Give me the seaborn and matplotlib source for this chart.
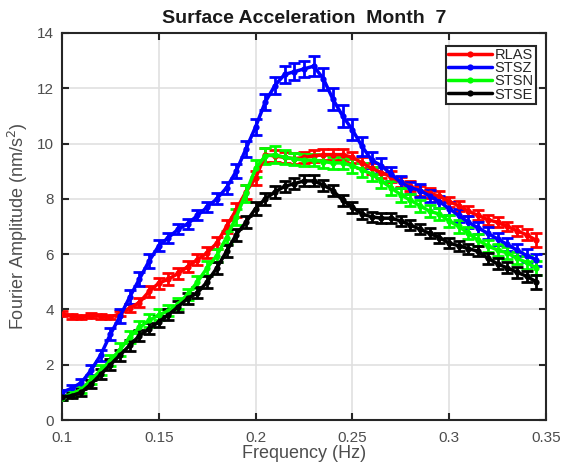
import numpy as np
import pandas as pd
import matplotlib
matplotlib.use("Agg")
import matplotlib.pyplot as plt
import seaborn as sns

freq = [0.100, 0.105, 0.110, 0.115, 0.120, 0.125, 0.130, 0.135, 0.140, 0.145,
        0.150, 0.155, 0.160, 0.165, 0.170, 0.175, 0.180, 0.185, 0.190, 0.195,
        0.200, 0.205, 0.210, 0.215, 0.220, 0.225, 0.230, 0.235, 0.240, 0.245,
        0.250, 0.255, 0.260, 0.265, 0.270, 0.275, 0.280, 0.285, 0.290, 0.295,
        0.300, 0.305, 0.310, 0.315, 0.320, 0.325, 0.330, 0.335, 0.340, 0.345]

rlas = [3.85, 3.75, 3.72, 3.78, 3.75, 3.72, 3.85, 4.05, 4.25, 4.65,
        4.95, 5.10, 5.30, 5.55, 5.80, 6.05, 6.40, 7.00, 7.60, 8.25,
        8.75, 9.60, 9.55, 9.50, 9.45, 9.50, 9.55, 9.60, 9.60, 9.60,
        9.50, 9.30, 9.10, 8.95, 8.80, 8.60, 8.45, 8.30, 8.20, 8.10,
        7.90, 7.75, 7.55, 7.40, 7.25, 7.15, 7.00, 6.85, 6.70, 6.50]

stsz = [1.00, 1.15, 1.35, 1.80, 2.35, 3.10, 3.75, 4.45, 5.10, 5.75,
        6.30, 6.60, 6.90, 7.10, 7.40, 7.70, 8.00, 8.40, 9.00, 9.80,
        10.60, 11.50, 12.10, 12.50, 12.60, 12.70, 12.80, 12.35, 11.60, 11.00,
        10.50, 9.90, 9.40, 9.20, 8.90, 8.60, 8.40, 8.30, 8.10, 7.90,
        7.65, 7.40, 7.15, 6.95, 6.75, 6.55, 6.35, 6.15, 5.95, 5.80]

stsn = [0.80, 0.95, 1.10, 1.45, 1.80, 2.15, 2.55, 3.00, 3.35, 3.60,
        3.80, 3.95, 4.20, 4.55, 5.00, 5.50, 5.95, 6.60, 7.35, 8.20,
        9.10, 9.55, 9.60, 9.50, 9.45, 9.40, 9.40, 9.35, 9.30, 9.30,
        9.20, 9.05, 8.90, 8.65, 8.40, 8.15, 7.95, 7.75, 7.55, 7.45,
        7.20, 7.00, 6.75, 6.50, 6.30, 6.15, 6.05, 5.85, 5.70, 5.50]

stse = [0.82, 0.88, 1.00, 1.30, 1.65, 2.00, 2.35, 2.70, 3.05, 3.30,
        3.55, 3.80, 4.10, 4.40, 4.60, 5.00, 5.50, 6.10, 6.70, 7.15,
        7.65, 8.00, 8.25, 8.45, 8.55, 8.65, 8.65, 8.50, 8.30, 7.95,
        7.70, 7.45, 7.35, 7.30, 7.30, 7.20, 7.05, 6.90, 6.75, 6.60,
        6.40, 6.30, 6.20, 6.10, 5.85, 5.65, 5.50, 5.35, 5.20, 5.00]

rlas_err = [0.08, 0.08, 0.08, 0.08, 0.08, 0.08, 0.10, 0.15, 0.18, 0.20,
            0.20, 0.20, 0.20, 0.20, 0.20, 0.20, 0.22, 0.22, 0.25, 0.25,
            0.25, 0.25, 0.22, 0.20, 0.20, 0.20, 0.20, 0.20, 0.20, 0.20,
            0.20, 0.20, 0.20, 0.20, 0.20, 0.18, 0.18, 0.18, 0.18, 0.18,
            0.18, 0.18, 0.18, 0.18, 0.18, 0.18, 0.18, 0.18, 0.20, 0.25]

stsz_err = [0.10, 0.12, 0.15, 0.18, 0.20, 0.22, 0.25, 0.25, 0.25, 0.25,
            0.20, 0.18, 0.18, 0.18, 0.18, 0.18, 0.20, 0.22, 0.25, 0.28,
            0.30, 0.30, 0.30, 0.30, 0.30, 0.30, 0.35, 0.40, 0.40, 0.40,
            0.38, 0.35, 0.30, 0.28, 0.25, 0.22, 0.22, 0.22, 0.22, 0.22,
            0.22, 0.22, 0.22, 0.22, 0.22, 0.22, 0.22, 0.22, 0.22, 0.22]

stsn_err = [0.08, 0.10, 0.12, 0.15, 0.18, 0.20, 0.22, 0.22, 0.22, 0.22,
            0.20, 0.20, 0.20, 0.20, 0.22, 0.25, 0.25, 0.25, 0.28, 0.30,
            0.30, 0.30, 0.30, 0.25, 0.22, 0.22, 0.22, 0.22, 0.22, 0.22,
            0.25, 0.25, 0.25, 0.25, 0.25, 0.25, 0.22, 0.22, 0.22, 0.22,
            0.22, 0.22, 0.22, 0.22, 0.22, 0.22, 0.22, 0.22, 0.22, 0.25]

stse_err = [0.08, 0.10, 0.12, 0.15, 0.18, 0.20, 0.20, 0.20, 0.20, 0.20,
            0.20, 0.20, 0.20, 0.20, 0.20, 0.22, 0.22, 0.22, 0.22, 0.22,
            0.22, 0.22, 0.22, 0.20, 0.20, 0.20, 0.20, 0.20, 0.20, 0.20,
            0.20, 0.18, 0.18, 0.18, 0.18, 0.18, 0.18, 0.18, 0.18, 0.18,
            0.18, 0.18, 0.18, 0.18, 0.20, 0.20, 0.20, 0.20, 0.20, 0.25]

stations = ["RLAS", "STSZ", "STSN", "STSE"]
colors = ["#ff0000", "#0000ff", "#00ff00", "#000000"]
series = [rlas, stsz, stsn, stse]
errors = [rlas_err, stsz_err, stsn_err, stse_err]

xticks = [0.1, 0.15, 0.2, 0.25, 0.3, 0.35]
xticklabels = ["0.1", "0.15", "0.2", "0.25", "0.3", "0.35"]
yticks = [0, 2, 4, 6, 8, 10, 12, 14]

df = pd.concat([pd.DataFrame({"freq": freq, "amp": s, "err": e, "station": n})
                for s, e, n in zip(series, errors, stations)], ignore_index=True)

sns.set_theme(style="whitegrid")
plt.rcParams["font.family"] = ["Liberation Sans", "DejaVu Sans"]

fig = plt.figure(figsize=(5.66, 4.66), dpi=100)
ax = fig.add_axes([0.1095, 0.0987, 0.855, 0.8305])

for name, col in zip(stations, colors):
    sub = df[df["station"] == name]
    ax.errorbar(sub["freq"], sub["amp"], yerr=sub["err"], fmt="none",
                ecolor=col, elinewidth=2.0, capsize=4.5, capthick=2.0, zorder=2)
    sns.lineplot(data=sub, x="freq", y="amp", ax=ax, color=col, linewidth=2.5,
                 marker="o", markersize=4.5, markeredgewidth=0, label=name,
                 zorder=3)

ax.set_xlim(0.1, 0.35)
ax.set_ylim(0, 14)
ax.set_xticks(xticks)
ax.set_xticklabels(xticklabels)
ax.set_yticks(yticks)
ax.grid(True, color="#e0e0e0", linewidth=1.2)
ax.set_axisbelow(True)
for sp in ax.spines.values():
    sp.set_color("#262626")
    sp.set_linewidth(1.5)
    sp.set_visible(True)
ax.tick_params(axis="both", direction="in", length=5, width=1.5, color="#262626",
               labelsize=11, labelcolor="#4d4d4d", top=True, right=True,
               bottom=True, left=True)
ax.tick_params(axis="x", pad=8)
ax.tick_params(axis="y", pad=6)
ax.set_facecolor("white")

ax.set_xlabel("Frequency (Hz)", fontsize=13, color="#4d4d4d", labelpad=0)
ax.set_ylabel("Fourier Amplitude (nm/s$^2$)", fontsize=13, color="#4d4d4d", labelpad=5)
ax.set_title("Surface Acceleration  Month  7", fontsize=14, fontweight="bold",
             color="#1a1a1a", pad=7)

leg = ax.legend(loc="upper right", bbox_to_anchor=(0.985, 0.975), fontsize=10.5,
                frameon=True, fancybox=False, borderpad=0.15, labelspacing=-0.05,
                handlelength=3.0, handletextpad=0.15, borderaxespad=0.2)
leg.get_frame().set_edgecolor("#262626")
leg.get_frame().set_linewidth(1.5)
leg.get_frame().set_facecolor("white")
leg.get_frame().set_alpha(1.0)

fig.savefig("out.png", dpi=100, facecolor="white")
